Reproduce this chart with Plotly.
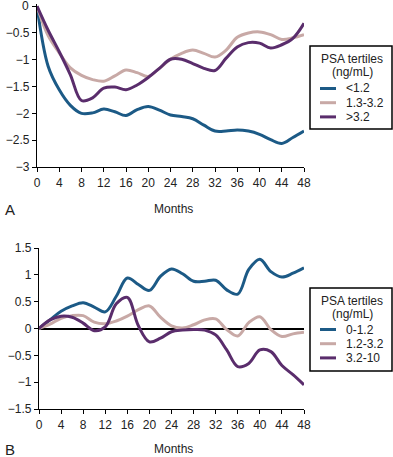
import plotly.graph_objects as go

months = [0, 2, 4, 6, 8, 10, 12, 14, 16, 18, 20, 22, 24, 26, 28, 30, 32, 34, 36, 38, 40, 42, 44, 46, 48]
month_ticks = [0, 4, 8, 12, 16, 20, 24, 28, 32, 36, 40, 44, 48]
a_ticks = [-3, -2.5, -2, -1.5, -1, -0.5, 0]
a_ticktext = ["\u22123", "\u22122.5", "\u22122", "\u22121.5", "\u22121", "\u22120.5", ""]
a_top_label = "0"
b_ticks = [-1.5, -1, -0.5, 0, 0.5, 1, 1.5]

# Panel A
a_names = ["<1.2", "1.3-3.2", ">3.2"]
a_low = [0, -1.12, -1.56, -1.85, -2.0, -1.99, -1.92, -1.97, -2.04, -1.93, -1.87, -1.94, -2.03,
         -2.06, -2.1, -2.22, -2.33, -2.33, -2.31, -2.33, -2.39, -2.49, -2.56, -2.45, -2.33]
a_mid = [0, -0.55, -0.87, -1.15, -1.29, -1.37, -1.4, -1.3, -1.19, -1.24, -1.31, -1.16, -0.99,
         -0.88, -0.82, -0.88, -0.95, -0.82, -0.58, -0.5, -0.48, -0.53, -0.62, -0.59, -0.53]
a_high = [0, -0.45, -0.85, -1.28, -1.76, -1.71, -1.53, -1.51, -1.56, -1.47, -1.33, -1.16, -0.99,
          -0.99, -1.07, -1.16, -1.2, -0.97, -0.76, -0.68, -0.69, -0.78, -0.72, -0.6, -0.32]

# Panel B
b_names = ["0-1.2", "1.2-3.2", "3.2-10"]
b_low = [0, 0.16, 0.32, 0.42, 0.48, 0.4, 0.31, 0.6, 0.94, 0.82, 0.71, 0.97, 1.11,
         1.02, 0.88, 0.88, 0.9, 0.72, 0.64, 1.1, 1.29, 1.06, 0.96, 1.03, 1.13]
b_mid = [0, 0.08, 0.19, 0.24, 0.24, 0.12, 0.09, 0.14, 0.23, 0.35, 0.42, 0.21, 0.05,
         0.01, 0.07, 0.16, 0.18, -0.02, -0.14, 0.11, 0.22, -0.02, -0.15, -0.1, -0.07]
b_high = [0, 0.16, 0.23, 0.21, 0.1, -0.04, 0.03, 0.46, 0.58, 0.05, -0.25, -0.18, -0.06,
          -0.03, -0.02, -0.03, -0.12, -0.4, -0.71, -0.65, -0.4, -0.43, -0.69, -0.86, -1.05]

legend_title_lines = ["PSA tertiles", "(ng/mL)"]
colors = ["#1c5a86", "#c8a9a6", "#5a2d6c"]
FONT = "Liberation Sans, Arial, sans-serif"
TXT = "#222"
FS = 12

fig = go.Figure()
for name, ys, c in zip(a_names, [a_low, a_mid, a_high], colors):
    fig.add_trace(go.Scatter(x=months, y=ys, name=name, mode="lines",
                             line=dict(color=c, width=3, shape="spline", smoothing=1.0),
                             xaxis="x", yaxis="y"))
for name, ys, c in zip(b_names, [b_low, b_mid, b_high], colors):
    fig.add_trace(go.Scatter(x=months, y=ys, name=name, mode="lines",
                             line=dict(color=c, width=3, shape="spline", smoothing=1.0),
                             xaxis="x2", yaxis="y2"))

W, H = 393, 457
def px(x):
    return x / W
def py(y):
    return 1 - y / H

axis_common = dict(showgrid=False, showline=True, linecolor="black", linewidth=1.2,
                   ticks="outside", ticklen=4, tickcolor="black", tickwidth=1,
                   ticklabeloverflow="allow",
                   tickfont=dict(family=FONT, size=FS, color=TXT))

shapes = []
annotations = []

def add_legend(names, box_top, box_bottom, title_y0, item_y0, step):
    left, right = 310, 392
    shapes.append(dict(type="rect", xref="paper", yref="paper",
                       x0=px(left), x1=px(right), y0=py(box_bottom), y1=py(box_top),
                       line=dict(color="black", width=1.5), fillcolor="white", layer="above"))
    for j, t in enumerate(legend_title_lines):
        annotations.append(dict(text=t, x=px((left + right) / 2 + 1), y=py(title_y0 + 13.4 * j),
                                xref="paper", yref="paper", xanchor="center", yanchor="middle",
                                showarrow=False,
                                font=dict(family=FONT, size=FS, color=TXT)))
    for i, (n, c) in enumerate(zip(names, colors)):
        yy = item_y0 + step * i
        shapes.append(dict(type="line", xref="paper", yref="paper",
                           x0=px(320), x1=px(336), y0=py(yy), y1=py(yy),
                           line=dict(color=c, width=3), layer="above"))
        annotations.append(dict(text=n, x=px(344), y=py(yy), xref="paper", yref="paper",
                                xanchor="left", yanchor="middle", showarrow=False,
                                font=dict(family=FONT, size=FS, color=TXT)))

add_legend(a_names, 46, 129, 59, 88.5, 14.2)
add_legend(b_names, 288, 371, 300.8, 329.5, 14.2)

for lab, ly in (("A", 209), ("B", 449)):
    annotations.append(dict(text="Months", x=px(173), y=py(ly), xref="paper", yref="paper",
                            xanchor="center", yanchor="middle", showarrow=False,
                            font=dict(family=FONT, size=FS, color=TXT)))
    annotations.append(dict(text=lab, x=px(3), y=py(ly), xref="paper", yref="paper",
                            xanchor="left", yanchor="middle", showarrow=False,
                            font=dict(family=FONT, size=15, color=TXT)))

# top tick label of panel A (kept as an annotation so it is not hidden at the page edge)
annotations.append(dict(text=a_top_label, x=px(31), y=a_ticks[-1], xref="paper", yref="y",
                        xanchor="right", yanchor="middle", showarrow=False,
                        font=dict(family=FONT, size=FS, color=TXT)))

fig.update_layout(
    width=W, height=H, margin=dict(l=0, r=0, t=0, b=0, autoexpand=False),
    paper_bgcolor="white", plot_bgcolor="white",
    font=dict(family=FONT, size=FS, color=TXT),
    showlegend=False,
    xaxis=dict(domain=[px(37), px(304)], range=[0, 48], tickvals=month_ticks,
               anchor="y", zeroline=False, **axis_common),
    yaxis=dict(domain=[py(167), py(4)], range=[-3, 0.04], tickvals=a_ticks,
               ticktext=a_ticktext, anchor="x", zeroline=False, **axis_common),
    xaxis2=dict(domain=[px(39), px(304)], range=[0, 48], tickvals=month_ticks,
                anchor="y2", zeroline=False, **axis_common),
    yaxis2=dict(domain=[py(409), py(248)], range=[-1.5, 1.5], tickvals=b_ticks,
                anchor="x2", zeroline=True, zerolinecolor="black", zerolinewidth=1.5,
                **axis_common),
    shapes=shapes,
    annotations=annotations,
)

fig.write_html("out.html", config={"displayModeBar": False},
               post_script="document.body.style.margin='0';document.body.style.overflow='hidden';")
